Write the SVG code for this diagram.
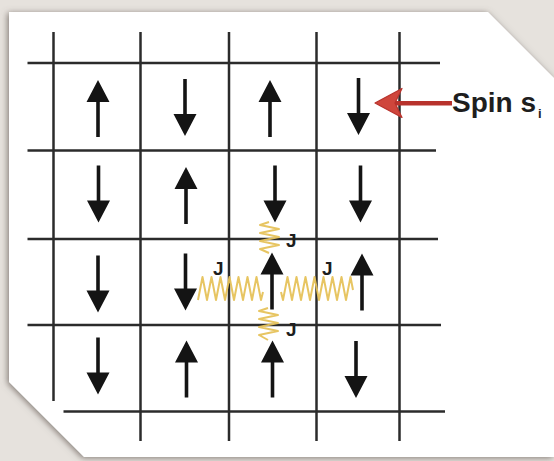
<svg xmlns="http://www.w3.org/2000/svg" xmlns:xlink="http://www.w3.org/1999/xlink" width="554" height="461" viewBox="0 0 554 461">
  <style>
    .grid line { stroke: #2b2b2b; stroke-width: 2.5; stroke-linecap: butt; }
    .spin { fill: #141414; }
    .spring { fill: none; stroke: #e6c25a; stroke-width: 2; stroke-linejoin: round; opacity: 0.95; }
    .lbl { font-family: "Liberation Sans", Arial, sans-serif; font-weight: bold; fill: #1e1e1e; }
  </style>
  <defs>
    <filter id="shadow" x="-5%" y="-5%" width="110%" height="110%">
      <feDropShadow dx="-1.5" dy="1" stdDeviation="3.2" flood-color="#6a625b" flood-opacity="0.8"/>
    </filter>
    <!-- spin arrow pointing up, centred on its own midpoint -->
    <path id="up" d="M0,-28.5 L11.5,-6.5 L1.8,-6.5 L1.8,28.5 L-1.8,28.5 L-1.8,-6.5 L-11.5,-6.5 Z"/>
    <path id="down" d="M0,28.5 L11.5,6.5 L1.8,6.5 L1.8,-28.5 L-1.8,-28.5 L-1.8,6.5 L-11.5,6.5 Z"/>
  </defs>

  <!-- background and card -->
  <rect width="554" height="461" fill="#e6e2dd"/>
  <polygon points="9,12 488,12 554,78 554,457 84,457 9,382" fill="#ffffff" filter="url(#shadow)"/>

  <!-- lattice -->
  <g id="lattice" class="grid">
    <line x1="53.5" y1="32" x2="53.5" y2="401"/>
    <line x1="140.5" y1="32" x2="140.5" y2="441"/>
    <line x1="229" y1="32" x2="229" y2="441"/>
    <line x1="316.5" y1="32" x2="316.5" y2="441"/>
    <line x1="399.5" y1="32" x2="399.5" y2="441"/>
    <line x1="27.5" y1="63" x2="440" y2="63"/>
    <line x1="27.5" y1="150.5" x2="436" y2="150.5"/>
    <line x1="27.5" y1="239" x2="438" y2="239"/>
    <line x1="27.5" y1="325" x2="441" y2="325"/>
    <line x1="63.5" y1="411.5" x2="445" y2="411.5"/>
  </g>

  <!-- couplings between neighbouring spins -->
  <g id="connectors">
    <polyline class="spring" points="269,222 260,225 279,229 260,233 279,237 260,241 279,245 260,249 269,253"/>
    <polyline class="spring" points="268,308 259,311 278,315 259,319 278,323 259,327 278,331 259,335 268,340"/>
    <polyline class="spring" points="198,300 202.5,277 207,300 211.5,277 216,300 220.5,277 225,300 229.5,277 234,300 238.5,277 243,300 247.5,277 252,300 256.5,277 261,300 263,292"/>
    <polyline class="spring" points="281,292 283,300 287.5,277 292,300 296.5,277 301,300 305.5,277 310,300 314.5,277 319,300 323.5,277 328,300 332.5,277 337,300 341.5,277 346,300 350.5,277 353,290"/>
    <g id="spin-pointer">
      <rect x="394" y="101" width="58" height="4.5" fill="#b8322c"/>
      <path d="M375,103 L402,88.5 L395,103 L402,117.5 Z" fill="#cf463c" stroke="#b8322c" stroke-width="1.2" stroke-linejoin="round"/>
    </g>
  </g>

  <!-- spins, row by row -->
  <g id="spins" class="spin">
    <g id="row1">
      <use xlink:href="#up" x="98" y="108.5"/>
      <use xlink:href="#down" x="185" y="107.5"/>
      <use xlink:href="#up" x="270" y="108.5"/>
      <use xlink:href="#down" x="358.5" y="106.5"/>
    </g>
    <g id="row2">
      <use xlink:href="#down" x="98.5" y="194"/>
      <use xlink:href="#up" x="186" y="195.5"/>
      <use xlink:href="#down" x="275" y="194"/>
      <use xlink:href="#down" x="360.5" y="194"/>
    </g>
    <g id="row3">
      <use xlink:href="#down" x="98" y="284"/>
      <use xlink:href="#down" x="185.5" y="282"/>
      <use xlink:href="#up" x="272" y="281"/>
      <use xlink:href="#up" x="362" y="282"/>
    </g>
    <g id="row4">
      <use xlink:href="#down" x="98" y="366"/>
      <use xlink:href="#up" x="186.5" y="369"/>
      <use xlink:href="#up" x="272.5" y="369"/>
      <use xlink:href="#down" x="356" y="369.5"/>
    </g>
  </g>

  <!-- labels -->
  <g id="labels">
    <text class="lbl" x="213" y="275" font-size="19">J</text>
    <text class="lbl" x="286" y="247" font-size="19">J</text>
    <text class="lbl" x="322" y="275" font-size="19">J</text>
    <text class="lbl" x="286" y="336" font-size="19">J</text>
    <text class="lbl" x="452" y="112" font-size="28">Spin s<tspan font-size="13" dx="2" dy="6">i</tspan></text>
  </g>
</svg>
